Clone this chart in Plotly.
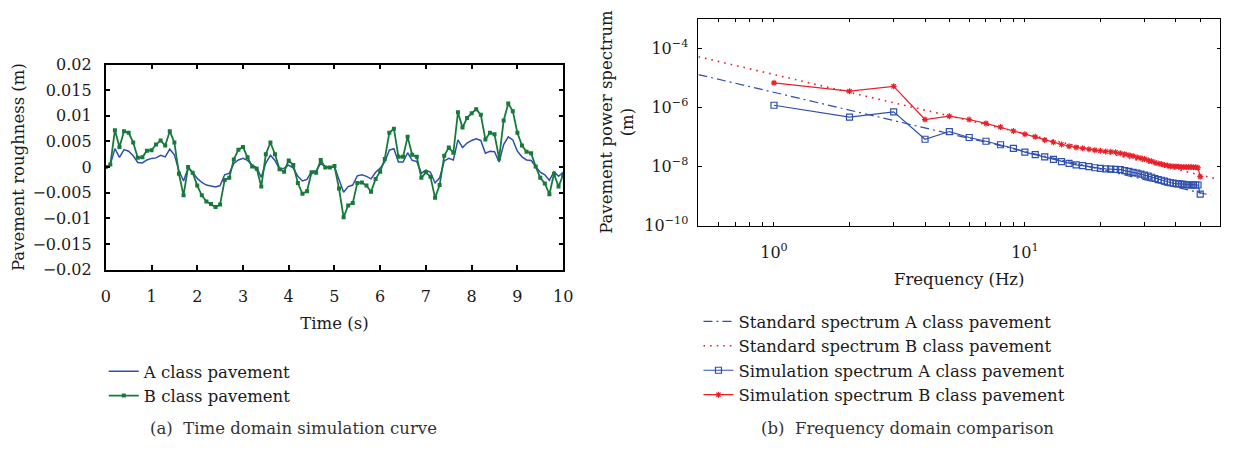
import plotly.graph_objects as go

# ---------------- data: time domain (left) ----------------
time_s = [round(i * 0.1, 1) for i in range(101)]
rough_A = [0, 0.0005, 0.0036, 0.0019, 0.0034, 0.0031, 0.0022, 0.0009, 0.0008, 0.0014,
           0.0017, 0.0018, 0.0023, 0.0020, 0.0035, 0.0024, -0.0007, -0.0027, -0.0002, -0.0010,
           -0.0022, -0.0030, -0.0035, -0.0037, -0.0039, -0.0036, -0.0015, -0.0012, 0.0007, 0.0014,
           0.0017, 0.0013, 0.0004, -0.0001, -0.0020, 0.0008, 0.0023, 0.0013, -0.0004, -0.0002,
           0.0004, -0.0002, -0.0018, -0.0027, -0.0024, -0.0009, -0.0007, 0.0007, 0.0001, -0.0001,
           0.0001, -0.0024, -0.0049, -0.0038, -0.0035, -0.0017, -0.0015, -0.0018, -0.0023, -0.0010,
           -0.0002, 0.0010, 0.0033, 0.0036, 0.0010, 0.0010, 0.0028, 0.0013, 0.0011, -0.0012,
           -0.0006, -0.0010, -0.0031, -0.0021, 0.0012, 0.0017, 0.0014, 0.0053, 0.0038, 0.0047,
           0.0052, 0.0055, 0.0052, 0.0027, 0.0031, 0.0030, 0.0010, 0.0044, 0.0059, 0.0053,
           0.0031, 0.0020, 0.0014, 0.0013, 0.0001, -0.0010, -0.0015, -0.0026, -0.0009, -0.0018,
           -0.0010]
rough_B = [0, 0.0005, 0.0072, 0.0039, 0.0070, 0.0067, 0.0048, 0.0018, 0.0019, 0.0032,
           0.0033, 0.0044, 0.0052, 0.0042, 0.0070, 0.0048, -0.0013, -0.0055, 0.0000, -0.0011,
           -0.0036, -0.0055, -0.0067, -0.0072, -0.0078, -0.0073, -0.0025, -0.0021, 0.0015, 0.0034,
           0.0039, 0.0019, 0.0001, -0.0003, -0.0038, 0.0025, 0.0048, 0.0025, -0.0004, -0.0009,
           0.0013, 0.0004, -0.0031, -0.0052, -0.0047, -0.0010, -0.0011, 0.0014, -0.0001, -0.0001,
           0.0002, -0.0042, -0.0098, -0.0075, -0.0070, -0.0031, -0.0030, -0.0036, -0.0048, -0.0023,
           -0.0009, 0.0016, 0.0067, 0.0075, 0.0020, 0.0020, 0.0059, 0.0024, 0.0020, -0.0021,
           -0.0010, -0.0019, -0.0060, -0.0035, 0.0022, 0.0038, 0.0028, 0.0107, 0.0077, 0.0096,
           0.0105, 0.0113, 0.0102, 0.0054, 0.0067, 0.0064, 0.0017, 0.0091, 0.0124, 0.0109,
           0.0067, 0.0042, 0.0030, 0.0027, 0.0001, -0.0021, -0.0032, -0.0053, -0.0013, -0.0038,
           -0.0015]

# ---------------- data: frequency domain (right) ----------------
std_freq_A = [0.5, 1, 10, 55]
std_psd_A = [1.28e-5, 3.2e-6, 3.2e-8, 1.06e-9]
std_freq_B = [0.5, 1, 10, 58]
std_psd_B = [5.12e-5, 1.28e-5, 1.28e-7, 3.8e-9]

sim_freq = list(range(1, 51))
sim_psd_A = [1.17e-6, 4.68e-7, 7.0e-7, 8.3e-8, 1.51e-7, 9.5e-8, 7.1e-8, 5.4e-8, 4.1e-8, 3.05e-8,
             2.5e-8, 2.1e-8, 1.74e-8, 1.45e-8, 1.26e-8, 1.12e-8, 1.07e-8, 9.8e-9, 9.0e-9, 8.6e-9,
             8.3e-9, 8.1e-9, 7.9e-9, 7.8e-9, 7.2e-9, 6.8e-9, 6.3e-9, 5.9e-9, 5.5e-9, 5.1e-9,
             4.7e-9, 4.3e-9, 3.9e-9, 3.6e-9, 3.4e-9, 3.2e-9, 2.95e-9, 2.8e-9, 2.7e-9, 2.6e-9,
             2.57e-9, 2.5e-9, 2.45e-9, 2.4e-9, 2.35e-9, 2.35e-9, 2.35e-9, 2.35e-9, 2.35e-9, 1.15e-9]
sim_psd_B = [6.7e-6, 3.5e-6, 5.1e-6, 3.85e-7, 5.0e-7, 3.85e-7, 2.85e-7, 2.14e-7, 1.58e-7, 1.23e-7,
             1.0e-7, 7.8e-8, 6.6e-8, 5.5e-8, 4.8e-8, 4.4e-8, 4.1e-8, 3.8e-8, 3.55e-8, 3.4e-8,
             3.2e-8, 3.15e-8, 3.0e-8, 2.8e-8, 2.6e-8, 2.4e-8, 2.24e-8, 2.04e-8, 1.9e-8, 1.78e-8,
             1.62e-8, 1.48e-8, 1.35e-8, 1.26e-8, 1.2e-8, 1.12e-8, 1.07e-8, 1.02e-8, 1.0e-8, 1.0e-8,
             9.8e-9, 9.5e-9, 9.5e-9, 9.5e-9, 9.5e-9, 9.5e-9, 9.3e-9, 9.3e-9, 9.0e-9, 4.5e-9]

# tick labels
left_yticks = [0.02, 0.015, 0.01, 0.005, 0, -0.005, -0.01, -0.015, -0.02]
left_yticktext = ["0.02", "0.015", "0.01", "0.005", "0", "\u22120.005", "\u22120.01", "\u22120.015", "\u22120.02"]
right_yticks = [1e-10, 1e-8, 1e-6, 1e-4]
right_yticktext = ["10<sup>\u221210</sup>", "10<sup>\u22128</sup>", "10<sup>\u22126</sup>", "10<sup>\u22124</sup>"]
right_xticks = [1, 10]
right_xticktext = ["10<sup>0</sup>", "10<sup>1</sup>"]
right_xminor = [0.6, 0.7, 0.8, 0.9, 2, 3, 4, 5, 6, 7, 8, 9, 20, 30, 40, 50]

FONT = "DejaVu Serif"
FS = 16
BLUE = "#2f4fae"
GREEN = "#167a3a"
RED = "#e8202a"
INK = "#1a1a1a"

fig = go.Figure()

fig.add_trace(go.Scatter(x=time_s, y=rough_A, mode="lines", name="A class pavement",
                         line=dict(color=BLUE, width=1.5), xaxis="x", yaxis="y", legend="legend"))
fig.add_trace(go.Scatter(x=time_s, y=rough_B, mode="lines+markers", name="B class pavement",
                         line=dict(color=GREEN, width=1.8), marker=dict(symbol="square", size=4, color=GREEN),
                         xaxis="x", yaxis="y", legend="legend"))

fig.add_trace(go.Scatter(x=std_freq_A, y=std_psd_A, mode="lines", name="Standard spectrum A class pavement",
                         line=dict(color=BLUE, width=1.2, dash="9px,4px,2px,4px"), xaxis="x2", yaxis="y2",
                         legend="legend2"))
fig.add_trace(go.Scatter(x=std_freq_B, y=std_psd_B, mode="lines", name="Standard spectrum B class pavement",
                         line=dict(color=RED, width=1.6, dash="1.6px,5px"), xaxis="x2", yaxis="y2",
                         legend="legend2"))
fig.add_trace(go.Scatter(x=sim_freq, y=sim_psd_A, mode="lines+markers", name="Simulation spectrum A class pavement",
                         line=dict(color=BLUE, width=1.2),
                         marker=dict(symbol="square-open", size=6, color=BLUE, line=dict(width=1.2, color=BLUE)),
                         xaxis="x2", yaxis="y2", legend="legend2"))
fig.add_trace(go.Scatter(x=sim_freq, y=sim_psd_B, mode="lines+markers", name="Simulation spectrum B class pavement",
                         line=dict(color=RED, width=1.2),
                         marker=dict(symbol="asterisk-open", size=5, color=RED, line=dict(width=1.2, color=RED)),
                         xaxis="x2", yaxis="y2", legend="legend2"))

axis_common = dict(showline=True, linecolor="black", mirror="ticks", ticks="inside",
                   tickcolor="black", showgrid=False, zeroline=False,
                   tickfont=dict(family=FONT, size=FS, color=INK))

fig.update_layout(
    width=1234, height=454,
    margin=dict(l=0, r=0, t=0, b=0),
    paper_bgcolor="white", plot_bgcolor="white",
    font=dict(family=FONT, size=FS, color=INK),
    xaxis=dict(domain=[102 / 1234, 565 / 1234], range=[0, 10], tickvals=list(range(11)),
               linewidth=1.8, ticklen=4.5, tickwidth=1.5, ticklabelstandoff=11,
               title=dict(text="Time (s)", font=dict(family=FONT, size=FS + 0.5), standoff=13),
               anchor="y", **axis_common),
    yaxis=dict(domain=[1 - 272 / 454, 1 - 58 / 454], range=[-0.02, 0.02],
               tickvals=left_yticks, ticktext=left_yticktext,
               linewidth=1.8, ticklen=4.5, tickwidth=1.5, ticklabelstandoff=9,
               title=dict(text="Pavement roughness (m)", font=dict(family=FONT, size=FS + 0.5), standoff=4),
               anchor="x", **axis_common),
    xaxis2=dict(domain=[702 / 1234, 1230 / 1234], type="log", range=[-0.301, 1.778],
                tickvals=right_xticks, ticktext=right_xticktext,
                minor=dict(tickvals=right_xminor, ticks="inside", ticklen=3.5, tickwidth=1, tickcolor="black",
                           showgrid=False),
                linewidth=1, ticklen=3.5, tickwidth=1, ticklabelstandoff=12,
                title=dict(text="Frequency (Hz)", font=dict(family=FONT, size=FS + 0.5), standoff=12),
                anchor="y2", **axis_common),
    yaxis2=dict(domain=[1 - 226 / 454, 1 - 10 / 454], type="log", range=[-10, -3],
                tickvals=right_yticks, ticktext=right_yticktext,
                linewidth=1, ticklen=3.5, tickwidth=1, ticklabelstandoff=6,
                title=dict(text="Pavement power spectrum<br>(m)", font=dict(family=FONT, size=FS + 0.5), standoff=6),
                anchor="x2", **axis_common),
    legend=dict(x=100 / 1234, y=1 - 360 / 454, xanchor="left", yanchor="top",
                bgcolor="rgba(0,0,0,0)", font=dict(family=FONT, size=FS + 0.5, color=INK),
                tracegroupgap=0),
    legend2=dict(x=702 / 1234, y=1 - 308 / 454, xanchor="left", yanchor="top",
                 bgcolor="rgba(0,0,0,0)", font=dict(family=FONT, size=FS + 0.5, color=INK),
                 tracegroupgap=0),
    annotations=[
        dict(text="(a)  Time domain simulation curve", x=292 / 1234, y=1 - 438 / 454,
             xref="paper", yref="paper", showarrow=False, xanchor="center", yanchor="middle",
             font=dict(family=FONT, size=FS + 0.5, color="#333")),
        dict(text="(b)  Frequency domain comparison", x=914 / 1234, y=1 - 438 / 454,
             xref="paper", yref="paper", showarrow=False, xanchor="center", yanchor="middle",
             font=dict(family=FONT, size=FS + 0.5, color="#333")),
    ],
)

fig.write_html("out.html", config={"displayModeBar": False},
               post_script="document.body.style.margin='0';document.body.style.overflow='hidden';")
